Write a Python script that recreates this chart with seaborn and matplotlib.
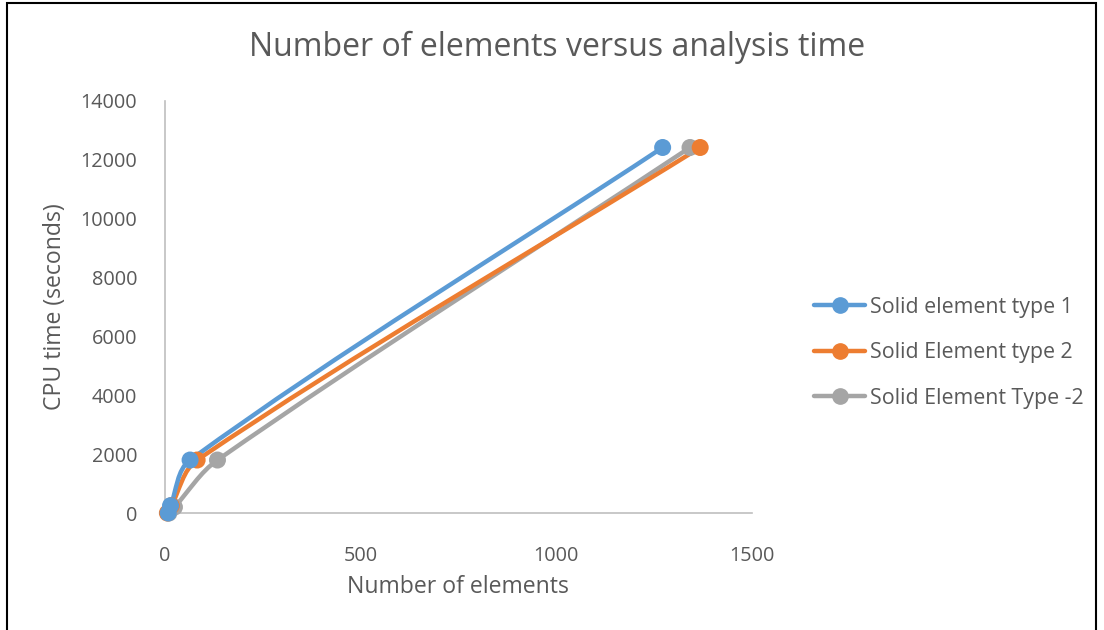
import numpy as np
import pandas as pd
import matplotlib
matplotlib.use("Agg")
import matplotlib.pyplot as plt
from matplotlib.path import Path
from matplotlib.patches import PathPatch
from matplotlib.lines import Line2D
import seaborn as sns

# Measured runs: element count vs CPU time
series_names = ["Solid element type 1", "Solid Element type 2", "Solid Element Type -2"]
elements_type1 = [8, 14, 64, 1272]
elements_type2 = [6, 16, 82, 1368]
elements_type3 = [10, 24, 134, 1342]
cpu_time_type1 = [0, 250, 1800, 12420]
cpu_time_type2 = [0, 250, 1800, 12420]
cpu_time_type3 = [0, 200, 1800, 12420]
colors = ["#5b9bd5", "#ed7d31", "#a5a5a5"]

x_ticks = [0, 500, 1000, 1500]
y_ticks = list(range(0, 14001, 2000))

df = pd.concat([
    pd.DataFrame({"elements": elements_type1, "cpu": cpu_time_type1, "series": series_names[0]}),
    pd.DataFrame({"elements": elements_type2, "cpu": cpu_time_type2, "series": series_names[1]}),
    pd.DataFrame({"elements": elements_type3, "cpu": cpu_time_type3, "series": series_names[2]}),
], ignore_index=True)

sns.set_theme(style="white")
plt.rcParams["font.family"] = ["Open Sans", "DejaVu Sans"]
text_color = "#595959"

fig = plt.figure(figsize=(11.04, 6.3), dpi=100)
ax = fig.add_axes([0.1495, 0.1857, 0.5315, 0.654])
ax.set_xlim(0, 1500)
ax.set_ylim(0, 14000)


def smooth_path(ax, x, y):
    """Smoothed line through the points: cubic Bezier segments whose handles
    follow the neighbouring chord direction, sized in screen space."""
    pts = ax.transData.transform(np.column_stack([x, y]).astype(float))
    n = len(pts)
    tangents = []
    for i in range(n):
        a = pts[max(i - 1, 0)]
        b = pts[min(i + 1, n - 1)]
        d = b - a
        tangents.append(d / np.hypot(*d))
    verts = [pts[0]]
    codes = [Path.MOVETO]
    for i in range(n - 1):
        seg = np.hypot(*(pts[i + 1] - pts[i]))
        c1 = pts[i] + tangents[i] * seg / 3
        c2 = pts[i + 1] - tangents[i + 1] * seg / 3
        verts += [c1, c2, pts[i + 1]]
        codes += [Path.CURVE4] * 3
    data_verts = ax.transData.inverted().transform(np.array(verts))
    return Path(data_verts, codes)


# Draw grey first so blue and orange sit on top
for name, color in list(zip(series_names, colors))[::-1]:
    sub = df[df["series"] == name]
    ax.add_patch(PathPatch(smooth_path(ax, sub["elements"], sub["cpu"]), facecolor="none",
                           edgecolor=color, lw=3.2, capstyle="round", joinstyle="round",
                           zorder=2, clip_on=False))

sns.scatterplot(data=df.iloc[::-1], x="elements", y="cpu", hue="series",
                palette=dict(zip(series_names, colors)), s=150, edgecolor="none",
                legend=False, ax=ax, zorder=3, clip_on=False)

ax.set_xlim(0, 1500)
ax.set_ylim(0, 14000)
ax.set_xticks(x_ticks)
ax.set_yticks(y_ticks)
ax.tick_params(axis="both", length=0, labelsize=14.3, colors=text_color)
ax.tick_params(axis="x", pad=24)
ax.tick_params(axis="y", pad=20)
for side in ["top", "right"]:
    ax.spines[side].set_visible(False)
for side in ["left", "bottom"]:
    ax.spines[side].set_color("#bfbfbf")
    ax.spines[side].set_linewidth(1.2)
ax.grid(False)

ax.set_xlabel("Number of elements", fontsize=16.6, color=text_color, labelpad=6)
ax.set_ylabel("CPU time (seconds)", fontsize=16.6, color=text_color, labelpad=10)
fig.text(0.505, 0.925, "Number of elements versus analysis time", ha="center", va="center",
         fontsize=23, color=text_color)

handles = [Line2D([0], [0], color=c, lw=3.2, marker="o", markersize=11) for c in colors]
ax.legend(handles, series_names, loc="center left", bbox_to_anchor=(0.720, 0.440),
          bbox_transform=fig.transFigure, frameon=False, fontsize=15.4,
          labelcolor=text_color, handlelength=2.4, handletextpad=0.2, labelspacing=1.15)

# Outer chart border
fig.add_artist(plt.Rectangle((0.0065, -0.01), 0.986, 1.006, transform=fig.transFigure,
                             fill=False, edgecolor="black", lw=1.5))

fig.savefig("out.png", dpi=100)
